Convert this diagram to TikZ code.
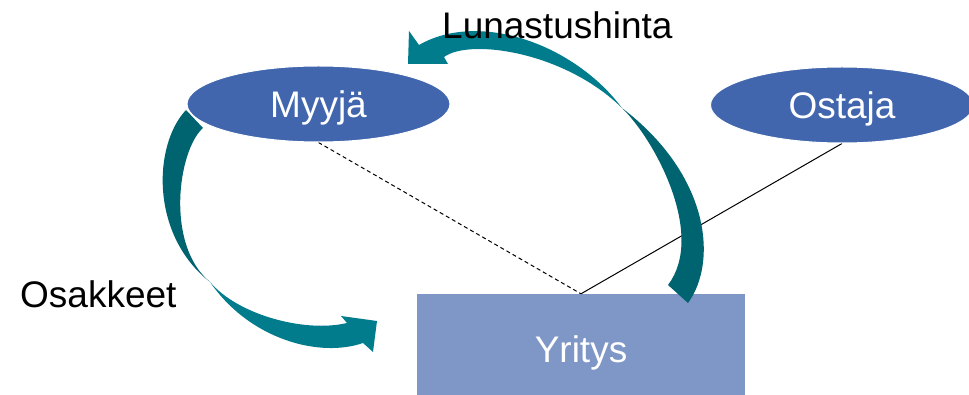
\documentclass[tikz,border=0pt]{standalone}
\usepackage{fontspec}
\setmainfont{Liberation Sans}
\usetikzlibrary{shapes.geometric}
\pgfdeclarelayer{bg}
\pgfdeclarelayer{ribbon}
\pgfsetlayers{bg,ribbon,main}

\definecolor{partyblue}{RGB}{65,102,173}
\definecolor{firmblue}{RGB}{127,151,198}
\definecolor{tealdark}{RGB}{0,99,112}
\definecolor{teallight}{RGB}{0,124,140}

\tikzset{
  bigtext/.style={font=\fontsize{37}{44}\selectfont},
  party/.style={ellipse, fill=partyblue, draw=white, line width=1pt,
    minimum width=263pt, minimum height=76pt, inner sep=0pt,
    text=white, bigtext, text height=26.5pt, text depth=0pt},
  firm/.style={rectangle, fill=firmblue, minimum width=328pt,
    minimum height=102pt, inner sep=0pt},
  firmtext/.style={inner sep=0pt, text=white, bigtext,
    text height=26.5pt, text depth=0pt},
  caption/.style={inner sep=0pt, anchor=base west, bigtext},
  tieline/.style={line width=1pt, black},
  tiedashed/.style={tieline, dash pattern=on 4pt off 3pt},
  backface/.style={fill=tealdark},
  frontface/.style={fill=teallight}
}

\begin{document}
\begin{tikzpicture}[x=1pt, y=-1pt]
  \useasboundingbox (0,0) rectangle (969,395);

  % the two parties
  \node[party] (seller) at (318.5,104) {Myyjä};
  \node[party] (buyer) at (842,105) {Ostaja};

  % the company and its ties to the parties
  \begin{pgfonlayer}{bg}
    \node[firm] (firm) at (581,345) {};
    \node[firmtext] (firmname) at (581,349) {Yritys};
    \draw[tiedashed] (seller.south) -- (firm.north);
    \draw[tieline] (buyer.south) -- (firm.north);
  \end{pgfonlayer}

  % curved ribbon arrows
  \begin{pgfonlayer}{ribbon}
    % shares: from the seller down to the company
    \fill[backface] (186,110) .. controls (153,145) and (150,235) .. (210,282)
      .. controls (165,245) and (178,150) .. (203,128) -- cycle;
    \fill[frontface] (210,282) .. controls (238,315) and (305,333) .. (347,323)
      -- (341,316) -- (377,321) -- (373,352) -- (363,343)
      .. controls (320,358) and (250,340) .. (210,282) -- cycle;

    % redemption price: from the company up to the seller
    \fill[backface] (688,303) .. controls (718,262) and (710,175) .. (622,108)
      .. controls (655,140) and (706,235) .. (668,285) -- cycle;
    \fill[frontface] (622,108) .. controls (575,45) and (480,10) .. (419,45)
      -- (409,31) -- (408,64) -- (448,64) -- (444,57)
      .. controls (470,38) and (565,52) .. (622,108) -- cycle;
  \end{pgfonlayer}

  % flow labels
  \node[caption] (price) at (442,39) {Lunastushinta};
  \node[caption] (shares) at (20,308) {Osakkeet};
\end{tikzpicture}
\end{document}
